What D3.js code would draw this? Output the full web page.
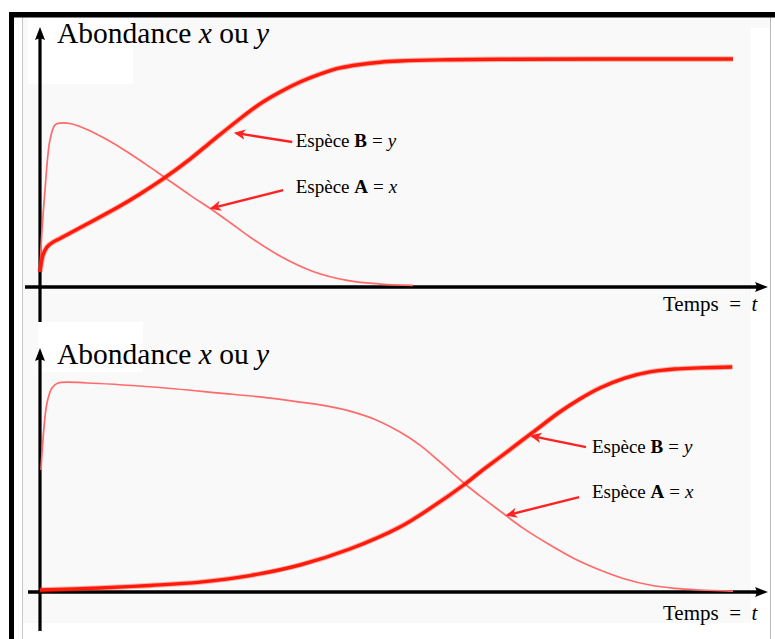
<!DOCTYPE html>
<html><head><meta charset="utf-8">
<script src="https://cdn.jsdelivr.net/npm/d3@7"></script>
<style>
body{margin:0;background:#fff}
svg{display:block}
</style>
</head><body>
<svg id="c" width="775" height="639"></svg>
<script>
// ---- data (time 0..100, abundance normalised 0..1) ----
const topA_t = [0, 0.25, 0.72, 1.44, 2.16, 2.89, 4.33, 6.78, 9.38, 12.27, 15.15, 17.75, 21.65, 24.82, 27.42, 30.3, 34.63, 39.39, 44.3, 49.1, 53.8];
const topA_v = [0.066, 0.23, 0.425, 0.645, 0.711, 0.719, 0.717, 0.691, 0.651, 0.599, 0.541, 0.486, 0.403, 0.339, 0.283, 0.219, 0.136, 0.068, 0.029, 0.013, 0.0075];
const topB_t = [0, 0.22, 0.43, 1.0, 1.88, 2.89, 6.78, 11.54, 14.43, 17.75, 21.65, 24.82, 28.43, 31.75, 34.63, 37.52, 40.4, 43.3, 46.2, 49.1, 51.9, 57.7, 66.4, 100];
const topB_v = [0.066, 0.11, 0.14, 0.175, 0.197, 0.213, 0.276, 0.355, 0.408, 0.474, 0.561, 0.640, 0.728, 0.803, 0.855, 0.899, 0.934, 0.961, 0.976, 0.986, 0.991, 0.996, 0.999, 1.0];

const botA_t = [0.14, 1.01, 1.73, 2.6, 6.78, 16.3, 25.97, 31.75, 37.5, 41.85, 44.73, 48.34, 51.95, 54.83, 57.72, 61.33, 63.49, 66.38, 69.7, 73.6, 77.2, 80.8, 84.4, 88.0, 91.6, 95.2, 100];
const botA_v = [0.542, 0.84, 0.907, 0.929, 0.929, 0.911, 0.884, 0.867, 0.844, 0.824, 0.804, 0.767, 0.711, 0.653, 0.578, 0.48, 0.427, 0.36, 0.284, 0.209, 0.147, 0.098, 0.058, 0.031, 0.016, 0.009, 0.004];
const botB_t = [0, 8.66, 15.87, 23.1, 30.3, 37.5, 44.7, 51.95, 56.6, 61.33, 63.5, 66.4, 71.0, 75.0, 77.9, 80.8, 84.4, 88.0, 91.6, 95.2, 99.9];
const botB_v = [0.009, 0.018, 0.029, 0.044, 0.073, 0.12, 0.191, 0.289, 0.378, 0.48, 0.533, 0.6, 0.707, 0.8, 0.858, 0.907, 0.951, 0.978, 0.991, 0.996, 1.0];

const titleParts = [["Abondance ", false], ["x", true], [" ou ", false], ["y", true]];
const xLabel = "Temps";
const labelB = ["Espèce ", "B", "y"];
const labelA = ["Espèce ", "A", "x"];
// annotations: [labelT, labelV, fromT, fromV, tipT, tipV]
const annTop = { B: [36.9, 0.614, 36.4, 0.636, 28.3, 0.675], A: [36.9, 0.412, 35.1, 0.425, 24.8, 0.346] };
const annBot = { B: [79.65, 0.618, 78.8, 0.644, 71.0, 0.693], A: [79.65, 0.418, 77.8, 0.422, 67.5, 0.342] };

// ---- drawing ----
const FONT = "'Liberation Serif', 'DejaVu Serif', 'Noto Serif', 'Times New Roman', serif";
const svg = d3.select("#c").attr("font-family", FONT);
const W = 775, H = 639;

svg.append("rect").attr("width", W).attr("height", H).attr("fill", "#fff");
svg.append("rect").attr("x", 23).attr("y", 17).attr("width", 747).attr("height", 11).attr("fill", "#f9f9f9");
svg.append("rect").attr("x", 23).attr("y", 17).attr("width", 728).attr("height", 606).attr("fill", "#f9f9f9");
svg.append("rect").attr("x", 28).attr("y", 17).attr("width", 105).attr("height", 67).attr("fill", "#fff");
svg.append("rect").attr("x", 38).attr("y", 322).attr("width", 105).attr("height", 50).attr("fill", "#fff");
svg.append("line").attr("x1", 22.5).attr("x2", 22.5).attr("y1", 17).attr("y2", H).attr("stroke", "#c8c8c8").attr("stroke-width", 1);
svg.append("line").attr("x1", 770.5).attr("x2", 770.5).attr("y1", 17).attr("y2", H).attr("stroke", "#b8b8b8").attr("stroke-width", 1);
svg.append("rect").attr("x", 9).attr("y", 12).attr("width", W - 9).attr("height", 5.5).attr("fill", "#000");
svg.append("rect").attr("x", 9).attr("y", 12).attr("width", 5).attr("height", H - 12).attr("fill", "#000");

const defs = svg.append("defs");
defs.append("marker").attr("id", "redhead").attr("viewBox", "0 0 10 10").attr("refX", 8).attr("refY", 5)
  .attr("markerWidth", 4.8).attr("markerHeight", 4.8).attr("markerUnits", "strokeWidth").attr("orient", "auto")
  .append("path").attr("d", "M10,5 L0,0.5 L2.8,5 L0,9.5 Z").attr("fill", "#ff2222");

function blackArrowHead(g, x, y, dir) {
  const p = dir === "up"
    ? `M${x},${y} L${x + 5},${y + 13} Q${x},${y + 10} ${x - 5},${y + 13} Z`
    : `M${x},${y} L${x - 13},${y - 5} Q${x - 10},${y} ${x - 13},${y + 5} Z`;
  g.append("path").attr("d", p).attr("fill", "#000");
}

function panel(cfg) {
  const g = svg.append("g");
  const x = d3.scaleLinear().domain([0, 100]).range([40, 733]);
  const y = d3.scaleLinear().domain([0, 1]).range([cfg.y0, cfg.y1]);

  g.append("line").attr("x1", cfg.axLeft).attr("x2", 758).attr("y1", y(0)).attr("y2", y(0))
    .attr("stroke", "#000").attr("stroke-width", 3.5);
  blackArrowHead(g, 768, y(0), "right");
  g.append("line").attr("x1", x(0)).attr("x2", x(0)).attr("y1", cfg.axBottom).attr("y2", cfg.tipY + 9)
    .attr("stroke", "#000").attr("stroke-width", 3.2);
  blackArrowHead(g, x(0), cfg.tipY, "up");

  const line = d3.line().curve(d3.curveCatmullRom.alpha(0.5)).x(d => x(d[0])).y(d => y(d[1]));
  const A = d3.zip(cfg.At, cfg.Av), B = d3.zip(cfg.Bt, cfg.Bv);

  g.append("path").attr("d", line(A)).attr("fill", "none").attr("stroke", "#ff6a6a").attr("stroke-width", 1.7);
  g.append("path").attr("d", line(B)).attr("fill", "none").attr("stroke", "#ff2a1a").attr("stroke-opacity", 0.35).attr("stroke-width", 5.4);
  g.append("path").attr("d", line(B)).attr("fill", "none").attr("stroke", "#ff1a0a").attr("stroke-width", 3.4);

  const t = g.append("text").attr("x", 57).attr("y", cfg.titleY).attr("font-size", 29.5).style("white-space", "pre");
  titleParts.forEach(([s, it]) => t.append("tspan").text(s).attr("font-style", it ? "italic" : "normal"));

  const xl = g.append("text").attr("x", 663).attr("y", cfg.xlabY).attr("font-size", 21);
  xl.append("tspan").text(xLabel);
  xl.append("tspan").attr("dx", 10.5).text("=");
  xl.append("tspan").attr("dx", 10.5).attr("font-style", "italic").text("t");

  [["B", labelB], ["A", labelA]].forEach(([k, lab]) => {
    const a = cfg.ann[k];
    g.append("line").attr("x1", x(a[2])).attr("y1", y(a[3])).attr("x2", x(a[4])).attr("y2", y(a[5]))
      .attr("stroke", "#ff2222").attr("stroke-width", 2.4).attr("marker-end", "url(#redhead)");
    const tx = g.append("text").attr("x", x(a[0])).attr("y", y(a[1])).attr("font-size", 19).style("white-space", "pre");
    tx.append("tspan").text(lab[0]);
    tx.append("tspan").attr("font-weight", "bold").text(lab[1]);
    tx.append("tspan").attr("dx", 5).text("=");
    tx.append("tspan").attr("dx", 5).attr("font-style", "italic").text(lab[2]);
  });
}

panel({ y0: 287, y1: 59, axLeft: 25, axBottom: 322, tipY: 27, titleY: 43, xlabY: 311,
  At: topA_t, Av: topA_v, Bt: topB_t, Bv: topB_v, ann: annTop });
panel({ y0: 592, y1: 367, axLeft: 28, axBottom: 631, tipY: 348, titleY: 364, xlabY: 620,
  At: botA_t, Av: botA_v, Bt: botB_t, Bv: botB_v, ann: annBot });
</script>
</body></html>
